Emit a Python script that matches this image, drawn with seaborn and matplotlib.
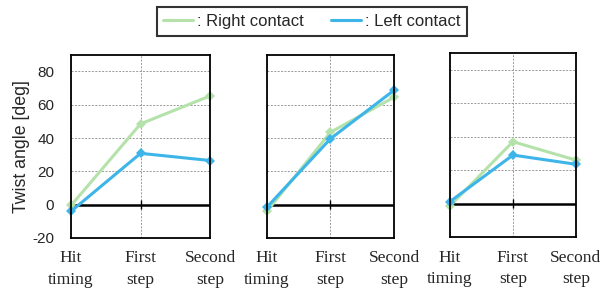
import matplotlib
matplotlib.use("Agg")
import matplotlib.pyplot as plt
import seaborn as sns
import pandas as pd
from matplotlib.lines import Line2D

sns.set_theme(style="white")

phases = ["Hit\ntiming", "First\nstep", "Second\nstep"]
series = ["Right contact", "Left contact"]
right_vals = [[-0.5, 48.5, 65.3], [-4.0, 43.5, 64.5], [-1.4, 37.0, 26.0]]
left_vals = [[-4.0, 30.8, 26.5], [-1.5, 39.6, 68.7], [1.2, 29.0, 23.5]]
yticks = [-20, 0, 20, 40, 60, 80]

colors = {"Right contact": "#b5e2aa", "Left contact": "#3db5e8"}

fig = plt.figure(figsize=(6.02, 2.93), dpi=100)
rects = [
    [0.118, 0.188, 0.231, 0.625],
    [0.4435, 0.188, 0.211, 0.625],
    [0.7475, 0.191, 0.209, 0.628],
]

for i, rect in enumerate(rects):
    ax = fig.add_axes(rect)
    rows = []
    for s, vals in (("Right contact", right_vals[i]), ("Left contact", left_vals[i])):
        for j, v in enumerate(vals):
            rows.append({"x": j, "y": v, "series": s})
    df = pd.DataFrame(rows)
    sns.lineplot(data=df, x="x", y="y", hue="series", palette=colors,
                 hue_order=series, marker="D", markersize=5.5, markeredgewidth=0,
                 linewidth=2.2, ax=ax, legend=False, clip_on=False)
    ax.set_xlim(0, 2)
    ax.set_ylim(-20, 90)
    ax.set_yticks(yticks)
    ax.set_xticks([0, 1, 2])
    ax.grid(True, color="#999999", linestyle=(0, (2, 1.5)), linewidth=0.7)
    ax.set_axisbelow(True)
    ax.axhline(0, color="black", linewidth=1.8, zorder=1.5)
    ax.vlines(1, -2.5, 2.5, color="black", linewidth=1.0, zorder=1.5)
    for sp in ax.spines.values():
        sp.set_color("black")
        sp.set_linewidth(1.3)
        sp.set_visible(True)
    ax.set_xticklabels(phases, fontfamily="Liberation Serif", fontsize=12.5,
                       linespacing=1.45)
    ax.tick_params(axis="x", length=0, pad=9)
    ax.set_xlabel("")
    if i == 0:
        ax.set_yticklabels([str(t) for t in yticks], fontfamily="Liberation Sans",
                           fontsize=11)
        ax.tick_params(axis="y", length=0, pad=12)
        ax.set_ylabel("Twist angle [deg]", fontfamily="Liberation Sans",
                      fontsize=12.8, labelpad=2)
    else:
        ax.set_yticklabels([])
        ax.tick_params(axis="y", length=0)
        ax.set_ylabel("")

handles = [Line2D([], [], color=colors[s], linewidth=2.2) for s in series]
leg = fig.legend(handles, [": " + s for s in series], loc="center",
                 bbox_to_anchor=(0.518, 0.927), ncol=2, frameon=True,
                 fancybox=False, edgecolor="black", handlelength=1.8,
                 handletextpad=0.25, columnspacing=1.6, borderpad=0.4,
                 borderaxespad=0,
                 prop={"family": "Liberation Sans", "size": 12})
leg.get_frame().set_linewidth(1.5)

fig.savefig("out.png", dpi=100)
